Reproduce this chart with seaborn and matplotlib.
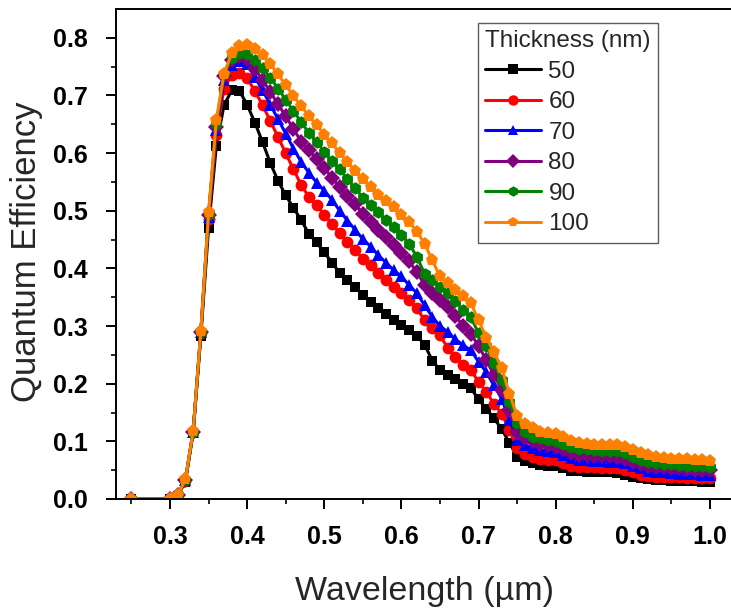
import numpy as np
import pandas as pd
import matplotlib
matplotlib.use("Agg")
import matplotlib.pyplot as plt
import seaborn as sns

# Wavelength grid (µm)
wavelength = [0.25] + [round(0.30 + 0.01 * i, 2) for i in range(71)]

thickness_labels = ["50", "60", "70", "80", "90", "100"]

qe_50 = [0.000, 0.000, 0.006, 0.030, 0.115, 0.283, 0.470, 0.612, 0.683, 0.709,
         0.708, 0.684, 0.653, 0.619, 0.583, 0.552, 0.527, 0.505, 0.484, 0.460,
         0.445, 0.428, 0.410, 0.392, 0.380, 0.368, 0.354, 0.342, 0.331, 0.321,
         0.310, 0.302, 0.293, 0.283, 0.268, 0.240, 0.224, 0.215, 0.209, 0.200,
         0.192, 0.173, 0.156, 0.140, 0.121, 0.098, 0.073, 0.066, 0.062, 0.059,
         0.058, 0.057, 0.053, 0.049, 0.048, 0.047, 0.047, 0.046, 0.046, 0.045,
         0.042, 0.039, 0.036, 0.034, 0.033, 0.033, 0.032, 0.032, 0.031, 0.031,
         0.030, 0.030]

qe_60 = [0.000, 0.000, 0.007, 0.032, 0.117, 0.288, 0.485, 0.631, 0.712, 0.735,
         0.739, 0.730, 0.708, 0.683, 0.656, 0.628, 0.600, 0.572, 0.545, 0.524,
         0.510, 0.493, 0.477, 0.461, 0.446, 0.432, 0.417, 0.406, 0.392, 0.380,
         0.368, 0.357, 0.345, 0.331, 0.310, 0.297, 0.284, 0.262, 0.246, 0.232,
         0.224, 0.203, 0.186, 0.165, 0.148, 0.120, 0.088, 0.078, 0.073, 0.070,
         0.068, 0.067, 0.063, 0.058, 0.056, 0.055, 0.055, 0.054, 0.054, 0.053,
         0.050, 0.046, 0.042, 0.040, 0.039, 0.039, 0.038, 0.038, 0.037, 0.037,
         0.036, 0.036]

qe_70 = [0.000, 0.000, 0.007, 0.033, 0.117, 0.290, 0.490, 0.640, 0.727, 0.753,
         0.760, 0.754, 0.732, 0.709, 0.684, 0.659, 0.634, 0.608, 0.585, 0.566,
         0.549, 0.535, 0.519, 0.500, 0.483, 0.467, 0.451, 0.438, 0.423, 0.410,
         0.397, 0.386, 0.371, 0.357, 0.336, 0.316, 0.300, 0.290, 0.277, 0.267,
         0.258, 0.238, 0.220, 0.197, 0.174, 0.137, 0.102, 0.094, 0.088, 0.085,
         0.083, 0.081, 0.076, 0.071, 0.068, 0.067, 0.066, 0.066, 0.065, 0.064,
         0.062, 0.058, 0.053, 0.049, 0.047, 0.046, 0.045, 0.044, 0.044, 0.043,
         0.042, 0.042]

qe_80 = [0.000, 0.000, 0.007, 0.033, 0.117, 0.290, 0.492, 0.645, 0.733, 0.762,
         0.768, 0.764, 0.746, 0.727, 0.706, 0.685, 0.664, 0.642, 0.620, 0.605,
         0.590, 0.574, 0.557, 0.541, 0.526, 0.511, 0.495, 0.481, 0.467, 0.454,
         0.440, 0.427, 0.412, 0.394, 0.371, 0.357, 0.345, 0.333, 0.318, 0.300,
         0.287, 0.265, 0.241, 0.215, 0.189, 0.155, 0.117, 0.106, 0.100, 0.096,
         0.093, 0.091, 0.086, 0.080, 0.077, 0.076, 0.075, 0.075, 0.074, 0.073,
         0.070, 0.065, 0.061, 0.058, 0.056, 0.055, 0.054, 0.053, 0.052, 0.051,
         0.051, 0.050]

qe_90 = [0.000, 0.000, 0.007, 0.033, 0.117, 0.290, 0.494, 0.650, 0.737, 0.765,
         0.773, 0.772, 0.762, 0.748, 0.731, 0.712, 0.693, 0.673, 0.654, 0.635,
         0.620, 0.602, 0.586, 0.572, 0.555, 0.539, 0.523, 0.510, 0.497, 0.484,
         0.472, 0.458, 0.443, 0.420, 0.391, 0.380, 0.368, 0.357, 0.343, 0.328,
         0.315, 0.288, 0.265, 0.236, 0.206, 0.169, 0.131, 0.117, 0.108, 0.105,
         0.103, 0.101, 0.096, 0.091, 0.087, 0.086, 0.085, 0.084, 0.084, 0.083,
         0.079, 0.072, 0.067, 0.064, 0.062, 0.061, 0.060, 0.059, 0.058, 0.057,
         0.057, 0.056]

qe_100 = [0.000, 0.000, 0.007, 0.034, 0.118, 0.292, 0.497, 0.657, 0.738, 0.773,
          0.786, 0.787, 0.780, 0.770, 0.754, 0.737, 0.718, 0.699, 0.682, 0.664,
          0.649, 0.632, 0.617, 0.600, 0.585, 0.569, 0.555, 0.542, 0.528, 0.517,
          0.506, 0.492, 0.481, 0.464, 0.443, 0.414, 0.386, 0.375, 0.363, 0.352,
          0.340, 0.310, 0.280, 0.255, 0.227, 0.183, 0.144, 0.130, 0.123, 0.117,
          0.115, 0.113, 0.108, 0.101, 0.097, 0.095, 0.094, 0.094, 0.094, 0.093,
          0.090, 0.085, 0.080, 0.076, 0.072, 0.071, 0.070, 0.069, 0.069, 0.068,
          0.067, 0.066]

series = [qe_50, qe_60, qe_70, qe_80, qe_90, qe_100]
colors = ["#000000", "#FF0000", "#0000FF", "#800080", "#008000", "#FF8000"]
markers = ["s", "o", "^", "D", "h", "p"]
marker_sizes = [7.5, 8.5, 9.0, 8.0, 9.0, 9.5]

df = pd.concat(
    [pd.DataFrame({"Wavelength": wavelength, "QE": vals, "Thickness": lab})
     for vals, lab in zip(series, thickness_labels)],
    ignore_index=True,
)

sns.set_theme(style="ticks")
plt.rcParams["font.family"] = ["Liberation Sans", "DejaVu Sans"]

W, H, DPI = 731, 609, 100
fig = plt.figure(figsize=(W / DPI, H / DPI), dpi=DPI)

xmin, xmax = 0.23, 1.03
ymin, ymax = 0.0, 0.85
px_per_x = 771.4
left_px, bottom_px, top_px = 116, 499, 9
ax_w_px = (xmax - xmin) * px_per_x
ax_h_px = bottom_px - top_px
ax = fig.add_axes([left_px / W, (H - bottom_px) / H, ax_w_px / W, ax_h_px / H])

sns.lineplot(
    data=df, x="Wavelength", y="QE", hue="Thickness", style="Thickness",
    hue_order=thickness_labels, style_order=thickness_labels,
    palette=dict(zip(thickness_labels, colors)),
    markers=dict(zip(thickness_labels, markers)),
    dashes=False, linewidth=2.2, markeredgewidth=0,
    ax=ax, legend=True,
)
for line, ms in zip(ax.get_lines(), marker_sizes):
    line.set_markersize(ms)

ax.set_xlim(xmin, xmax)
ax.set_ylim(ymin, ymax)
ax.set_xticks(np.arange(0.3, 1.01, 0.1))
ax.set_xticks(np.arange(0.25, 1.03, 0.1), minor=True)
ax.set_yticks(np.arange(0.0, 0.81, 0.1))
ax.set_yticks(np.arange(0.05, 0.85, 0.1), minor=True)
ax.xaxis.set_major_formatter(matplotlib.ticker.FormatStrFormatter("%.1f"))
ax.yaxis.set_major_formatter(matplotlib.ticker.FormatStrFormatter("%.1f"))

for sp in ["left", "bottom", "top"]:
    ax.spines[sp].set_linewidth(1.4)
    ax.spines[sp].set_color("black")
ax.spines["right"].set_visible(False)

ax.tick_params(axis="both", which="major", direction="out", length=7.5,
               width=1.4, labelsize=18, colors="black")
ax.tick_params(axis="y", which="major", pad=12.5)
ax.tick_params(axis="x", which="major", pad=11)
ax.tick_params(axis="both", which="minor", direction="out", length=3.6,
               width=1.4)
ax.tick_params(top=False, right=False, which="both")
for lab in ax.get_xticklabels() + ax.get_yticklabels():
    lab.set_fontweight("bold")

ax.set_xlabel("Wavelength (µm)", fontsize=24.5)
ax.set_ylabel("Quantum Efficiency", fontsize=25)
ax.xaxis.set_label_coords(0.5, -(576 - bottom_px) / ax_h_px)
ax.yaxis.set_label_coords((43 - left_px) / ax_w_px, 0.505)

handles, labels = ax.get_legend_handles_labels()
for h in handles:
    h.set_markersize(7.5)
    h.set_linewidth(2.2)
leg = ax.legend(handles, labels, title="Thickness (nm)", loc="upper left",
                bbox_to_anchor=((478 - left_px) / ax_w_px, 1 - (23 - top_px) / ax_h_px),
                fontsize=17.5, title_fontsize=17.5, frameon=True,
                fancybox=False, edgecolor="#333333", handlelength=2.3,
                handletextpad=0.3, labelspacing=0.35, borderpad=0.3,
                borderaxespad=0)
leg.get_frame().set_linewidth(1.0)
leg._legend_box.align = "left"

fig.savefig("out.png", dpi=DPI)
